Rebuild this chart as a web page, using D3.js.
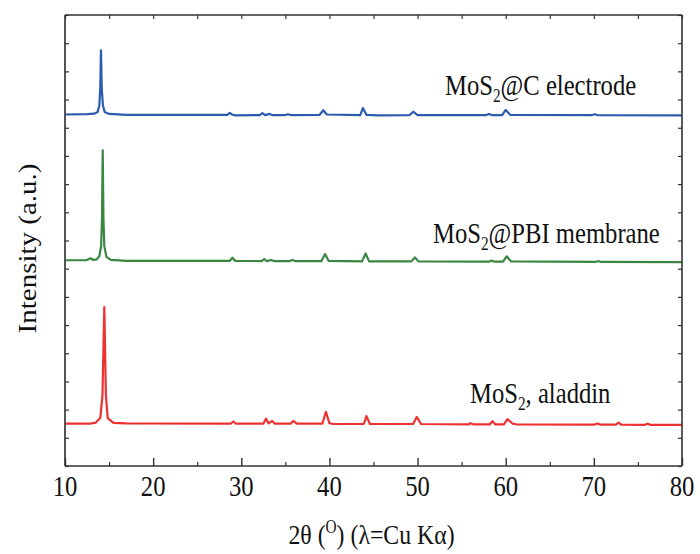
<!DOCTYPE html>
<html>
<head>
<meta charset="utf-8">
<script src="https://cdn.jsdelivr.net/npm/d3@7/dist/d3.min.js"></script>
<style>
  html, body { margin: 0; padding: 0; background: #fff; }
  svg { display: block; }
  svg text { font-family: "Liberation Serif", "Times New Roman", Times, Tinos, "DejaVu Serif", serif; fill: #111; }
</style>
</head>
<body>
<svg id="chart" width="700" height="554"></svg>
<script>
// ---- data (2θ in degrees, intensity in arbitrary units, already offset per trace) ----
const xTicks = [10, 20, 30, 40, 50, 60, 70, 80];
const xMinorTicks = [15, 25, 35, 45, 55, 65, 75];
const yTicks = d3.range(0, 161, 10);

const electrode = [
  [10,124.7],[12.5,124.8],[13.3,125.0],[13.7,125.6],[13.9,128],[14.0,134],[14.08,147.5],[14.17,134],[14.3,128],[14.5,125.6],[15,124.9],[17,124.6],
  [28.4,124.6],[28.7,125.3],[29.0,124.6],[29.4,124.4],[32.1,124.5],[32.4,125.2],[32.7,124.5],[33.2,124.9],[33.5,124.5],[35.0,124.5],[35.3,124.8],[35.6,124.5],
  [38.9,124.6],[39.3,126.2],[39.7,124.7],[43.5,124.5],[43.8,127.0],[44.2,124.6],[45.5,124.4],[49.1,124.5],[49.5,125.7],[50.0,124.5],
  [57.8,124.5],[58.1,124.9],[58.4,124.5],[59.6,124.5],[60.0,126.3],[60.5,124.6],[69.8,124.5],[70.1,124.8],[70.4,124.5],[80,124.4]
];
const membrane = [
  [10,73.0],[12.4,73.0],[12.9,73.7],[13.2,73.1],[13.6,73.3],[13.9,74.5],[14.1,78],[14.2,88],[14.28,112.0],[14.36,88],[14.46,78],[14.7,74.2],[15.2,73.1],[17,72.8],
  [28.7,72.8],[29.0,73.9],[29.3,72.8],[32.3,72.7],[32.6,73.4],[32.9,72.7],[33.4,73.1],[33.7,72.7],[35.5,72.7],[35.8,73.1],[36.1,72.7],
  [39.1,72.7],[39.5,75.2],[39.9,72.8],[43.7,72.6],[44.1,75.4],[44.5,72.6],[49.3,72.6],[49.7,74.0],[50.1,72.6],
  [58.1,72.5],[58.4,72.9],[58.7,72.5],[59.7,72.5],[60.1,74.4],[60.6,72.6],[70.2,72.4],[70.5,72.7],[70.8,72.4],[80,72.3]
];
const aladdin = [
  [10,15.0],[12.8,15.0],[13.5,15.4],[14.0,17],[14.25,25],[14.46,56.4],[14.64,25],[14.85,17],[15.5,15.3],[17,15.1],
  [28.8,15.0],[29.1,15.8],[29.4,15.0],[32.5,15.0],[32.8,16.8],[33.1,15.1],[33.5,16.0],[33.8,15.0],[35.6,15.0],[35.9,16.0],[36.3,15.0],
  [39.2,15.0],[39.6,19.2],[40.0,15.2],[40.4,14.9],[43.9,14.9],[44.2,17.7],[44.6,14.9],[49.5,14.9],[49.9,17.4],[50.4,14.9],
  [55.8,14.8],[56.0,15.2],[56.3,14.8],[58.2,14.8],[58.5,15.9],[58.8,14.8],[59.8,14.8],[60.2,16.6],[60.8,15.0],[61.2,14.8],
  [70.1,14.7],[70.4,15.1],[70.7,14.7],[72.5,14.7],[72.8,15.4],[73.1,14.7],[75.8,14.6],[76.1,15.0],[76.4,14.6],[80,14.6]
];
const seriesNames = ["MoS2@C electrode", "MoS2@PBI membrane", "MoS2, aladdin"];
const seriesColors = ["#2b5cad", "#3a8642", "#ee3131"];

// ---- layout ----
const FONT = '"Liberation Serif", "Times New Roman", Times, Tinos, "DejaVu Serif", serif';
const svg = d3.select("#chart");
const L = 65, R = 682, T = 15, B = 466;
const x = d3.scaleLinear().domain([10, 80]).range([L, R]);
const y = d3.scaleLinear().domain([0, 160]).range([B, T]);
const SX = 0.85; // horizontal text compression of the original figure

// traces
const line = d3.line().x(d => x(d[0])).y(d => y(d[1]));
[electrode, membrane, aladdin].forEach((s, i) => {
  svg.append("path").datum(s)
    .attr("fill", "none").attr("stroke", seriesColors[i])
    .attr("stroke-width", 2.2).attr("stroke-linejoin", "round")
    .attr("d", line);
});

// frame
const axisColor = "#333";
svg.append("line").attr("x1", L).attr("x2", R).attr("y1", T).attr("y2", T).attr("stroke", axisColor).attr("stroke-width", 1.6);
svg.append("line").attr("x1", L).attr("x2", R).attr("y1", B).attr("y2", B).attr("stroke", axisColor).attr("stroke-width", 1.6);
svg.append("line").attr("x1", L).attr("x2", L).attr("y1", T).attr("y2", B).attr("stroke", "#555").attr("stroke-width", 2);
svg.append("line").attr("x1", R).attr("x2", R).attr("y1", T).attr("y2", B).attr("stroke", axisColor).attr("stroke-width", 1.6);

// bottom axis (major + minor, inward)
const gBottom = svg.append("g").attr("transform", `translate(0,${B})`)
  .call(d3.axisBottom(x).tickValues(xTicks).tickSizeInner(-8).tickSizeOuter(0).tickFormat(""));
gBottom.select(".domain").remove();
gBottom.selectAll(".tick line").attr("stroke", axisColor).attr("stroke-width", 1.4);
const gBottomMinor = svg.append("g").attr("transform", `translate(0,${B})`)
  .call(d3.axisBottom(x).tickValues(xMinorTicks).tickSizeInner(-4).tickSizeOuter(0).tickFormat(""));
gBottomMinor.select(".domain").remove();
gBottomMinor.selectAll(".tick line").attr("stroke", axisColor).attr("stroke-width", 1.2);

// top axis
const gTop = svg.append("g").attr("transform", `translate(0,${T})`)
  .call(d3.axisTop(x).tickValues(xTicks.concat(xMinorTicks)).tickSizeInner(-4).tickSizeOuter(0).tickFormat(""));
gTop.select(".domain").remove();
gTop.selectAll(".tick line").attr("stroke", axisColor).attr("stroke-width", 1.2);

// left and right axes
const gLeft = svg.append("g").attr("transform", `translate(${L},0)`)
  .call(d3.axisLeft(y).tickValues(yTicks).tickSizeInner(-4).tickSizeOuter(0).tickFormat(""));
gLeft.select(".domain").remove();
gLeft.selectAll(".tick line").attr("stroke", axisColor).attr("stroke-width", 1.2);
const gRight = svg.append("g").attr("transform", `translate(${R},0)`)
  .call(d3.axisRight(y).tickValues(yTicks).tickSizeInner(-4).tickSizeOuter(0).tickFormat(""));
gRight.select(".domain").remove();
gRight.selectAll(".tick line").attr("stroke", axisColor).attr("stroke-width", 1.2);

// tick labels
xTicks.forEach(v => {
  svg.append("g").attr("transform", `translate(${x(v)},${B + 30}) scale(${SX},1)`)
    .append("text").attr("font-family", FONT).attr("text-anchor", "middle").attr("font-size", 29).text(v);
});

// axis titles
const xt = svg.append("g").attr("transform", `translate(${(L + R) / 2 - 2},${B + 78}) scale(${SX},1)`)
  .append("text").attr("font-family", FONT).attr("text-anchor", "middle").attr("font-size", 28);
xt.append("tspan").text("2θ (");
xt.append("tspan").attr("font-size", 18).attr("dy", -11).text("O");
xt.append("tspan").attr("dy", 11).text(") (λ=Cu Kα)");

svg.append("g").attr("transform", `translate(36,${(T + B) / 2 + 8}) scale(${SX},1) rotate(-90)`)
  .append("text").attr("font-family", FONT).attr("text-anchor", "middle").attr("font-size", 29).text("Intensity (a.u.)");

// series labels with subscript 2
const labelPos = [[445, 95, "@C electrode"], [433, 243, "@PBI membrane"], [470, 403, ", aladdin"]];
labelPos.forEach(([lx, ly, rest]) => {
  const t = svg.append("g").attr("transform", `translate(${lx},${ly}) scale(${SX},1)`)
    .append("text").attr("font-family", FONT).attr("font-size", 29);
  t.append("tspan").text("MoS");
  t.append("tspan").attr("font-size", 18).attr("dy", 7).text("2");
  t.append("tspan").attr("dy", -7).text(rest);
});
</script>
</body>
</html>
